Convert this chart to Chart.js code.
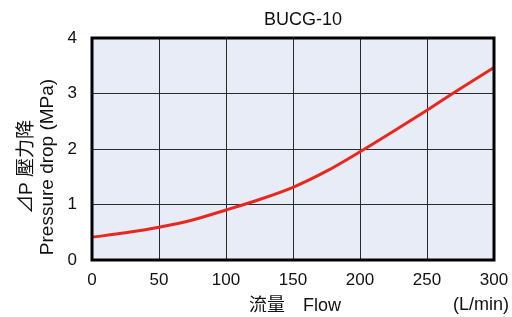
<!DOCTYPE html>
<html>
<head>
<meta charset="utf-8">
<script src="https://cdn.jsdelivr.net/npm/chart.js@4/dist/chart.umd.min.js"></script>
<style>
  html, body { margin: 0; padding: 0; background: #fff; }
  #wrap { width: 512px; height: 317px; position: relative; }
</style>
</head>
<body>
<div id="wrap"><canvas id="c"></canvas></div>
<script>
// flow (L/min) vs pressure drop (MPa)
const flow = [0, 25, 50, 75, 100, 125, 150, 175, 200, 225, 250, 275, 300];
const pressure = [0.41, 0.49, 0.59, 0.72, 0.90, 1.09, 1.31, 1.60, 1.95, 2.32, 2.70, 3.09, 3.47];
const xTicks = [0, 50, 100, 150, 200, 250, 300];
const yTicks = [0, 1, 2, 3, 4];

const FONT = "'Liberation Sans', Arial, 'Noto Sans CJK TC', sans-serif";

// plot fill, frame and all the static text
const decor = {
    id: 'decor',
    beforeDraw(chart) {
        const { ctx, chartArea: a } = chart;
        ctx.save();
        ctx.fillStyle = '#e8ecf7';
        ctx.fillRect(a.left, a.top, a.right - a.left, a.bottom - a.top);
        ctx.restore();
    },
    afterDraw(chart) {
        const { ctx, chartArea: a } = chart;
        ctx.save();
        ctx.strokeStyle = '#000';
        ctx.lineWidth = 3;
        ctx.strokeRect(a.left, a.top, a.right - a.left, a.bottom - a.top);

        ctx.fillStyle = '#111';
        ctx.textBaseline = 'alphabetic';
        ctx.font = '18px ' + FONT;
        ctx.textAlign = 'center';
        ctx.fillText('BUCG-10', 303, 25);

        ctx.textAlign = 'left';
        ctx.fillText('流量', 249, 311);
        ctx.fillText('Flow', 303, 311);
        ctx.textAlign = 'right';
        ctx.fillText('(L/min)', 509, 310);

        // rotated y title, two lines
        ctx.translate(0, 167);
        ctx.rotate(-Math.PI / 2);
        ctx.textAlign = 'center';
        ctx.font = '19px ' + FONT;
        ctx.fillText('⊿P 壓力降', 0, 32);
        ctx.fillText('Pressure drop (MPa)', 0, 53);
        ctx.restore();
    }
};

new Chart(document.getElementById('c'), {
    type: 'line',
    data: {
        datasets: [{
            data: flow.map((f, i) => ({ x: f, y: pressure[i] })),
            borderColor: '#e8281e',
            borderWidth: 3,
            pointRadius: 0,
            tension: 0.3,
            fill: false,
        }],
    },
    options: {
        responsive: true,
        maintainAspectRatio: false,
        animation: false,
        layout: { padding: { left: 0, right: 18, top: 38, bottom: 0 } },
        plugins: { legend: { display: false }, tooltip: { enabled: false } },
        scales: {
            x: {
                type: 'linear',
                min: 0,
                max: 300,
                afterFit: s => { s.height = 57; s.paddingLeft = 0; s.paddingRight = 0; },
                afterBuildTicks: s => { s.ticks = xTicks.map(v => ({ value: v })); },
                border: { display: false },
                grid: { color: '#2a2a2a', lineWidth: 1, drawTicks: false },
                ticks: { color: '#111', font: { family: FONT, size: 17 }, padding: 10, maxRotation: 0 },
            },
            y: {
                min: 0,
                max: 4,
                afterFit: s => { s.width = 92; s.paddingTop = 0; s.paddingBottom = 0; },
                afterBuildTicks: s => { s.ticks = yTicks.map(v => ({ value: v })); },
                border: { display: false },
                grid: { color: '#2a2a2a', lineWidth: 1, drawTicks: false },
                ticks: { color: '#111', font: { family: FONT, size: 17 }, padding: 15 },
            },
        },
    },
    plugins: [decor],
});
</script>
</body>
</html>
